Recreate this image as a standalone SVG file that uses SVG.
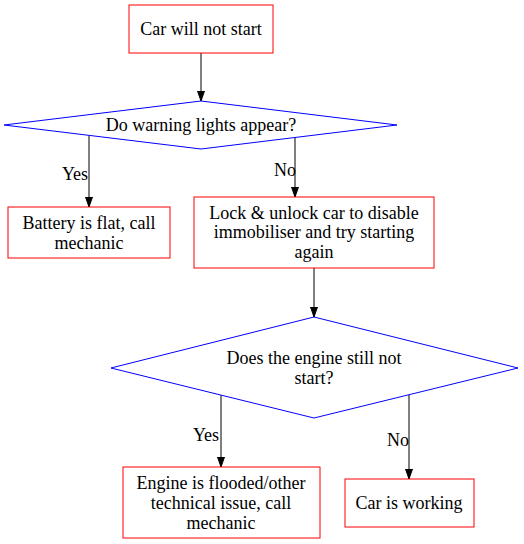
<svg xmlns="http://www.w3.org/2000/svg" width="524" height="544" viewBox="0 0 524 544">
<style>
.box{fill:#fff;stroke:#ff0000;stroke-width:1}
.dia{fill:#fff;stroke:#0000ff;stroke-width:1}
text{font-family:'Liberation Serif','Times New Roman','DejaVu Serif',serif;font-size:18px;fill:#000;text-anchor:middle;dominant-baseline:central}
.edge{stroke:#000;stroke-width:1;fill:none;marker-end:url(#ah)}
</style>
<defs>
<marker id="ah" markerWidth="10" markerHeight="8" refX="10" refY="4" orient="auto" markerUnits="userSpaceOnUse">
<path d="M0,0.5 L10,4 L0,7.5 Z" fill="#000" stroke="#000"/>
</marker>
</defs>
<rect width="524" height="544" fill="#fff"/>
<g id="connectors">
<line class="edge" x1="201" y1="53" x2="201" y2="101"/>
<line class="edge" x1="89" y1="136" x2="89" y2="207"/>
<text x="75" y="174">Yes</text>
<line class="edge" x1="295" y1="137" x2="295" y2="197"/>
<text x="285" y="170">No</text>
<line class="edge" x1="314" y1="268" x2="314" y2="317"/>
<line class="edge" x1="221" y1="395" x2="221" y2="467"/>
<text x="206" y="435">Yes</text>
<line class="edge" x1="409" y1="395" x2="409" y2="479"/>
<text x="398" y="440">No</text>
</g>
<g id="start">
<rect class="box" x="129" y="5" width="144" height="48"/>
<text x="201" y="29">Car will not start</text>
</g>
<g id="q1">
<polygon class="dia" points="201,101 397,125 201,149 4,125"/>
<text x="201" y="125">Do warning lights appear?</text>
</g>
<g id="battery">
<rect class="box" x="8" y="207" width="162" height="51"/>
<text x="89" y="223">Battery is flat, call</text>
<text x="89" y="243">mechanic</text>
</g>
<g id="lock">
<rect class="box" x="194" y="197" width="240" height="71"/>
<text x="314" y="213">Lock &amp; unlock car to disable</text>
<text x="314" y="232">immobiliser and try starting</text>
<text x="314" y="252">again</text>
</g>
<g id="q2">
<polygon class="dia" points="314,317 518,368 314,418 111,368"/>
<text x="314" y="358">Does the engine still not</text>
<text x="314" y="378">start?</text>
</g>
<g id="flooded">
<rect class="box" x="123" y="467" width="197" height="71"/>
<text x="221" y="483">Engine is flooded/other</text>
<text x="221" y="503">technical issue, call</text>
<text x="221" y="523">mechanic</text>
</g>
<g id="working">
<rect class="box" x="345" y="479" width="129" height="48"/>
<text x="409" y="503">Car is working</text>
</g>
</svg>
